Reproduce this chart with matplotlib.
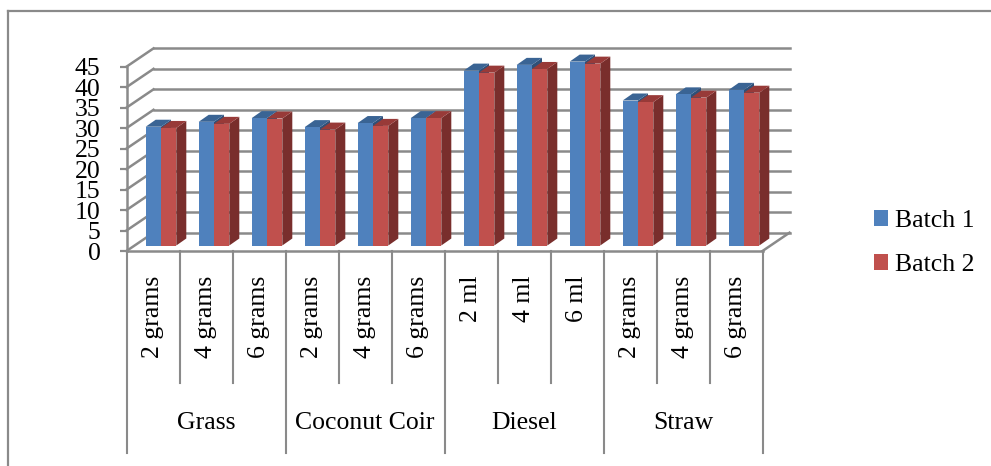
import matplotlib
matplotlib.use("Agg")
import matplotlib.pyplot as plt
from matplotlib.patches import Polygon, Patch
from matplotlib.lines import Line2D

plt.rcParams["font.family"] = ["Liberation Serif", "DejaVu Serif"]

# ── data ─────────────────────────────────────────────────────────────────────
groups = ["Grass", "Coconut Coir", "Diesel", "Straw"]
doses = [
    ["2 grams", "4 grams", "6 grams"],
    ["2 grams", "4 grams", "6 grams"],
    ["2 ml", "4 ml", "6 ml"],
    ["2 grams", "4 grams", "6 grams"],
]
batch1 = [29.0, 30.2, 31.1, 28.9, 29.9, 31.1, 42.7, 44.1, 44.9, 35.4, 36.9, 38.0]
batch2 = [28.7, 29.7, 31.0, 28.3, 29.2, 31.1, 42.2, 43.1, 44.4, 35.0, 36.1, 37.3]
series_names = ["Batch 1", "Batch 2"]
yticks = list(range(0, 50, 5))

# ── colours ──────────────────────────────────────────────────────────────────
BLUE, BLUE_TOP, BLUE_SIDE = "#4F81BD", "#3A6494", "#2F5078"
RED, RED_TOP, RED_SIDE = "#C0504D", "#983A38", "#792E2C"
GRID = "#8A8A8A"

# ── geometry (pixels on a 991x466 canvas) ────────────────────────────────────
W_PX, H_PX = 991, 466
X0, SLOT = 126.5, 53.0        # left edge of the floor, width of one category
Y0, PPU = 251.0, 4.096        # floor front edge, pixels per value unit
YMAX = 45


def ux(px):
    return px / SLOT


def uy(px):
    return px / PPU


WALL_DX, WALL_DY = ux(27), uy(18.3)     # depth of the back wall
LIFT_X, LIFT_Y = ux(8), uy(5.5)         # bars stand a little behind the front
BAR_W = ux(15.3)
BAR_DX, BAR_DY = ux(10), uy(7)          # bar depth
FS = 18.5

fig = plt.figure(figsize=(W_PX / 100, H_PX / 100), dpi=100)
fig.patch.set_facecolor("white")
ax = fig.add_axes([X0 / W_PX, (H_PX - Y0) / H_PX,
                   12 * SLOT / W_PX, YMAX * PPU / H_PX])
n = len(batch1)
ax.set_xlim(0, n)
ax.set_ylim(0, YMAX)
ax.set_facecolor("none")

for s in ["top", "right"]:
    ax.spines[s].set_visible(False)
for s in ["left", "bottom"]:
    ax.spines[s].set_color(GRID)
    ax.spines[s].set_linewidth(1.8)
ax.set_xticks([])
ax.set_yticks(yticks)
ax.tick_params(axis="y", length=5.2, width=1.6, color=GRID, pad=13.5,
               labelsize=FS)

# back wall grid and left wall diagonals
for v in yticks:
    ax.plot([WALL_DX, n + WALL_DX], [v + WALL_DY, v + WALL_DY],
            color=GRID, lw=1.8, zorder=1, clip_on=False)
    ax.plot([0, WALL_DX], [v, v + WALL_DY],
            color=GRID, lw=1.8, zorder=1, clip_on=False)
# right edge of the floor
ax.plot([n, n + WALL_DX], [0, WALL_DY], color=GRID, lw=1.8, zorder=1,
        clip_on=False)

# ── 3-D columns ──────────────────────────────────────────────────────────────
centers = [i + 0.5 + LIFT_X for i in range(n)]
series = [(batch1, BLUE, BLUE_TOP, BLUE_SIDE, -BAR_W / 2, 3),
          (batch2, RED, RED_TOP, RED_SIDE, BAR_W / 2, 4)]
for vals, fc, ftop, fside, off, z in series:
    xs = [c + off for c in centers]
    bars = ax.bar(xs, vals, width=BAR_W, bottom=LIFT_Y, color=fc,
                  linewidth=0, zorder=z + 0.2, clip_on=False)
    for b in bars:
        x0, x1 = b.get_x(), b.get_x() + b.get_width()
        y0, y1 = b.get_y(), b.get_y() + b.get_height()
        top = Polygon([(x0, y1), (x1, y1), (x1 + BAR_DX, y1 + BAR_DY),
                       (x0 + BAR_DX, y1 + BAR_DY)],
                      closed=True, fc=ftop, ec="none", zorder=z + 0.1,
                      clip_on=False)
        side = Polygon([(x1, y0), (x1, y1), (x1 + BAR_DX, y1 + BAR_DY),
                        (x1 + BAR_DX, y0 + BAR_DY)],
                       closed=True, fc=fside, ec="none", zorder=z,
                       clip_on=False)
        ax.add_patch(top)
        ax.add_patch(side)

# ── category table under the floor ───────────────────────────────────────────
SUB_TOP = -uy(276 - Y0)
SUB_END = -uy(383 - Y0)
GRP_END = -uy(453 - Y0)
GRP_MID = -uy(423 - Y0)

for k in range(n + 1):
    y_end = GRP_END if k % 3 == 0 else SUB_END
    ax.plot([k, k], [0, y_end], color=GRID, lw=1.5, clip_on=False)

i = 0
for g, labels in zip(groups, doses):
    for lab in labels:
        ax.text(i + 0.5, SUB_TOP, lab, rotation=90, ha="center", va="top",
                fontsize=FS)
        i += 1
    ax.text(i - 1.5, GRP_MID, g, ha="center", va="center", fontsize=FS)

# ── legend ───────────────────────────────────────────────────────────────────
handles = [Patch(fc=BLUE, ec="none"), Patch(fc=RED, ec="none")]
fig.legend(handles, series_names, loc="center left",
           bbox_to_anchor=(874 / W_PX, 1 - 243 / H_PX), frameon=False,
           fontsize=FS, handlelength=0.55, handleheight=0.55,
           handletextpad=0.25, labelspacing=0.85, borderpad=0,
           borderaxespad=0)

# ── chart border (top and left edges fall inside the canvas) ────────────────
fig.add_artist(Line2D([8 / W_PX, 1], [1 - 11 / H_PX, 1 - 11 / H_PX],
                      transform=fig.transFigure, color=GRID, lw=1.6))
fig.add_artist(Line2D([8 / W_PX, 8 / W_PX], [0, 1 - 11 / H_PX],
                      transform=fig.transFigure, color=GRID, lw=1.6))

fig.savefig("out.png", dpi=100, facecolor="white")
